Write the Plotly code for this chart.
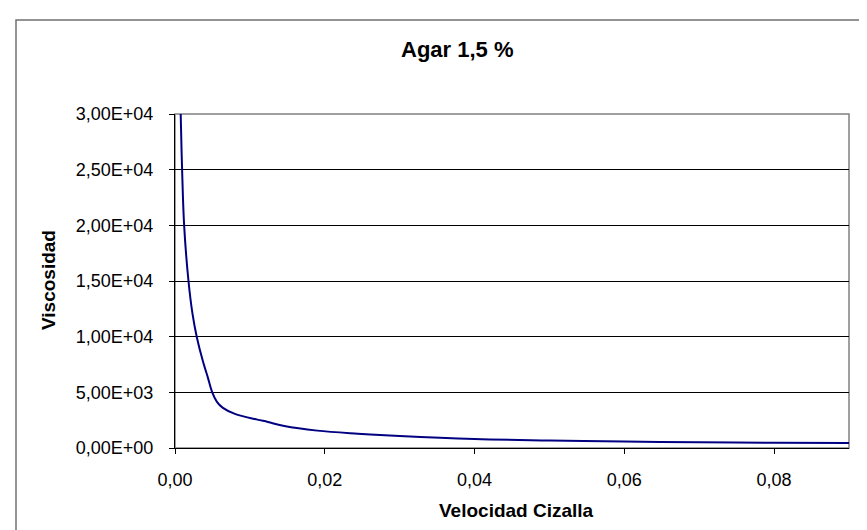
import plotly.graph_objects as go

# Data
shear_rate = [0.0006, 0.00076, 0.00095, 0.00122, 0.0018, 0.00235, 0.0029, 0.0037, 0.0044,
              0.00497, 0.0056, 0.0064, 0.008, 0.011, 0.0124, 0.0146, 0.019, 0.0244,
              0.03, 0.04, 0.05, 0.06, 0.07, 0.08, 0.09]
viscosity = [37000, 30000, 25000, 20000, 15000, 12000, 10000, 7850, 6300,
             5000, 4150, 3600, 3060, 2550, 2340, 1970, 1560, 1290,
             1080, 810, 680, 580, 510, 470, 440]

x_tickvals = [0, 0.02, 0.04, 0.06, 0.08]
x_ticktext = ["0,00", "0,02", "0,04", "0,06", "0,08"]
y_tickvals = [0, 5000, 10000, 15000, 20000, 25000, 30000]
y_ticktext = ["0,00E+00", "5,00E+03", "1,00E+04", "1,50E+04", "2,00E+04", "2,50E+04", "3,00E+04"]

title_text = "Agar 1,5 %"
x_title = "Velocidad Cizalla"
y_title = "Viscosidad"

FONT = "Arial, Liberation Sans, sans-serif"
W, H = 867, 530
L, R, T, B = 167, 26, 106, 90
pw, ph = W - L - R, H - T - B

def px_x(p):
    return (p - L) / pw

def px_y(p):
    return (H - B - p) / ph

fig = go.Figure()
fig.add_trace(go.Scatter(x=shear_rate, y=viscosity, mode="lines",
                         line=dict(color="#000080", width=2, shape="spline", smoothing=1.0),
                         cliponaxis=True, showlegend=False))

fig.update_layout(
    width=W, height=H,
    margin=dict(l=L, r=R, t=T, b=B),
    paper_bgcolor="white", plot_bgcolor="white",
    font=dict(family=FONT, color="black"),
    xaxis=dict(range=[0, 0.09], tickvals=x_tickvals, ticktext=x_ticktext,
               showgrid=False, zeroline=False, showline=True, linecolor="black",
               linewidth=1, ticks="outside", ticklen=5, tickcolor="black",
               tickfont=dict(size=18, family=FONT), ticklabelstandoff=10),
    yaxis=dict(range=[0, 30000], tickvals=y_tickvals, ticktext=y_ticktext,
               showgrid=True, gridcolor="black", gridwidth=1, zeroline=False,
               showline=True, linecolor="black", linewidth=1, ticks="outside",
               ticklen=5, tickcolor="black",
               tickfont=dict(size=18, family=FONT), ticklabelstandoff=12),
    shapes=[
        # plot area border (grey)
        dict(type="rect", xref="paper", yref="paper", x0=0, x1=1, y0=0, y1=1,
             line=dict(color="#808080", width=1.5), layer="below"),
        # chart area border (grey)
        dict(type="rect", xref="paper", yref="paper",
             x0=px_x(8), x1=px_x(872), y0=px_y(536), y1=px_y(12),
             line=dict(color="#707070", width=1.5)),
    ],
    annotations=[
        dict(text="<b>%s</b>" % title_text, xref="paper", yref="paper",
             x=px_x(449), y=px_y(41), showarrow=False,
             font=dict(size=22, family=FONT), xanchor="center", yanchor="middle"),
        dict(text="<b>%s</b>" % x_title, xref="paper", yref="paper",
             x=px_x(508), y=px_y(502), showarrow=False,
             font=dict(size=19, family=FONT), xanchor="center", yanchor="middle"),
        dict(text="<b>%s</b>" % y_title, xref="paper", yref="paper",
             x=px_x(40), y=px_y(272), showarrow=False, textangle=-90,
             font=dict(size=19, family=FONT), xanchor="center", yanchor="middle"),
    ],
)

fig.write_html("out.html")
